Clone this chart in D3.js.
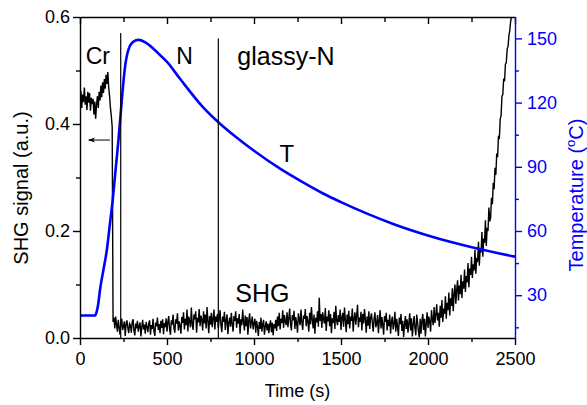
<!DOCTYPE html>
<html><head><meta charset="utf-8">
<script src="https://cdn.jsdelivr.net/npm/d3@7"></script>
<style>
body{margin:0;background:#fff;}
svg{display:block;font-family:"Liberation Sans",Arial,Helvetica,sans-serif;}
</style>
</head><body>
<svg id="chart" width="587" height="405"></svg>
<script>
// ---------------- data ----------------
const timeTicks = [0, 500, 1000, 1500, 2000, 2500];
const timeMinorTicks = [250, 750, 1250, 1750, 2250];
const shgTicks = [0.0, 0.2, 0.4, 0.6];
const shgMinorTicks = [0.1, 0.3, 0.5];
const tempTicks = [30, 60, 90, 120, 150];
const tempMinorTicks = [15, 45, 75, 105, 135];

// SHG signal sampled every 5 s starting at 0 s
const shgStart = 0;
const shgStep = 5;
const shgValues = [
  // 0 - 185 s (Cr)
  .448,.462,.430,.455,.441,.468,.436,.452,.426,.460,
  .440,.458,.425,.449,.437,.447,.418,.442,.410,.436,
  .452,.430,.460,.444,.472,.450,.478,.458,.484,.466,
  .492,.475,.497,.468,.452,.430,.415,.395,
  // 190 - 285
  .030,.038,.018,.040,.025,.012,.034,.020,.006,.028,.036,.015,.022,.031,.004,.026,.033,.019,.009,.027,
  // 290 - 385
  .024,.010,.030,.035,.014,.005,.027,.018,.032,.012,.022,.029,.003,.020,.034,.016,.025,.008,.030,.021,
  // 390 - 485
  .011,.027,.033,.006,.024,.017,.036,.013,.004,.029,.022,.038,.015,.026,.009,.032,.019,.035,.007,.028,
  // 490 - 585
  .020,.037,.012,.030,.041,.016,.006,.033,.025,.044,.018,.010,.035,.027,.046,.014,.031,.022,.008,.039,
  // 590 - 685
  .028,.048,.016,.036,.024,.053,.012,.040,.031,.020,.057,.026,.015,.044,.035,.050,.010,.038,.029,.054,
  // 690 - 785
  .022,.042,.034,.014,.050,.027,.044,.018,.058,.032,.009,.041,.025,.047,.020,.036,.053,.016,.040,.030,
  // 790 - 885
  .045,.018,.036,.052,.024,.011,.040,.030,.049,.015,.033,.044,.007,.028,.038,.021,.047,.026,.012,.041,
  // 890 - 985
  .032,.050,.019,.037,.027,.045,.008,.035,.024,.053,.030,.014,.042,.022,.039,.006,.033,.046,.018,.029,
  // 990 - 1085
  .040,.016,.028,.036,.010,.032,.021,.004,.030,.017,.038,.012,.025,.034,.006,.022,.031,.014,.027,.009,
  // 1090 - 1185
  .024,.033,.011,.029,.005,.026,.018,.034,.013,.040,.022,.047,.016,.036,.028,.052,.019,.043,.031,.024,
  // 1190 - 1285
  .048,.020,.037,.055,.026,.014,.043,.033,.051,.017,.039,.028,.010,.046,.035,.024,.053,.030,.015,.042,
  // 1290 - 1385
  .036,.054,.022,.041,.030,.012,.047,.026,.058,.034,.018,.044,.008,.038,.029,.050,.021,.075,.032,.045,
  // 1390 - 1485
  .019,.048,.035,.027,.056,.013,.040,.031,.052,.022,.045,.009,.037,.028,.049,.017,.060,.033,.024,.043,
  // 1490 - 1585
  .030,.053,.015,.039,.047,.021,.057,.034,.011,.044,.026,.051,.018,.040,.032,.055,.012,.036,.048,.025,
  // 1590 - 1685
  .042,.062,.020,.038,.030,.049,.014,.045,.027,.054,.034,.010,.040,.023,.050,.017,.037,.046,.029,.012,
  // 1690 - 1785
  .036,.048,.020,.027,.043,.009,.033,.052,.018,.039,.025,.006,.041,.030,.047,.014,.034,.022,.044,.008,
  // 1790 - 1885
  .031,.040,.016,.027,.049,.012,.036,.021,.004,.038,.026,.045,.013,.032,.002,.024,.041,.017,.035,.010,
  // 1890 - 1955
  .028,.046,.014,.037,.003,.025,.041,.019,.005,.044,.030,.012,.001,.036,
  // 1960 - 2055 (rise begins)
  .008,.032,.045,.015,.036,.003,.027,.048,.019,.040,.030,.012,.052,.035,.024,.058,.028,.044,.063,.033,
  // 2060 - 2155
  .047,.021,.060,.038,.071,.030,.055,.045,.078,.036,.066,.052,.085,.042,.074,.060,.093,.050,.082,.100,
  // 2160 - 2255
  .064,.090,.108,.070,.098,.082,.118,.075,.106,.092,.128,.086,.116,.104,.140,.095,.130,.118,.152,.112,
  // 2260 - 2355
  .138,.126,.165,.120,.150,.142,.180,.135,.168,.160,.198,.152,.186,.178,.220,.172,.206,.200,.244,.218,
  // 2360 - 2455
  .225,.262,.250,.290,.278,.318,.305,.345,.338,.378,.372,.410,.415,.452,.455,.485,.480,.512,.515,.540,
  // 2460 - 2490
  .545,.565,.575,.592,.600,.625,.650
];

// Temperature curve (s, °C)
const tempTime = [0, 85, 95, 105, 115, 135, 154, 170, 188, 205, 221, 240, 259, 278, 307, 336, 384,
  450, 500, 576, 700, 800, 900, 1000, 1152, 1267, 1400, 1500, 1653, 1800, 2033, 2264, 2500];
const tempValues = [20.5, 20.5, 22, 26, 32.5, 42, 51, 62, 74.5, 89, 102.5, 121, 136.8, 144.6, 148.5, 149.3, 147.7,
  143, 139, 131, 118.5, 110.5, 103.7, 97.5, 89, 83.4, 77.4, 73.5, 68, 63.3, 57.1, 52.2, 48];

// phase boundaries (s) and the SHG value where each line starts at top
const boundaryTimes = [234, 795];
const boundaryTops = [0.570, 0.560];

// ---------------- drawing ----------------
const svg = d3.select("#chart");
const m = {left: 80, right: 515, top: 17, bottom: 338};
const BLUE = "#0000ff";

const x = d3.scaleLinear().domain([0, 2500]).range([m.left, m.right]);
const yL = d3.scaleLinear().domain([0, 0.6]).range([m.bottom, m.top]);
const yR = d3.scaleLinear().domain([10, 160]).range([m.bottom, m.top]);

const defs = svg.append("defs");
defs.append("clipPath").attr("id", "clip")
  .append("rect").attr("x", m.left).attr("y", m.top)
  .attr("width", m.right - m.left).attr("height", m.bottom - m.top);

const plot = svg.append("g").attr("clip-path", "url(#clip)");

// SHG
const shgData = shgValues.map((v, i) => [shgStart + i * shgStep, v]);
plot.append("path").datum(shgData)
  .attr("fill", "none").attr("stroke", "#000").attr("stroke-width", 1.4)
  .attr("d", d3.line().x(d => x(d[0])).y(d => yL(d[1])));

// Temperature
const tempData = tempTime.map((t, i) => [t, tempValues[i]]);
plot.append("path").datum(tempData)
  .attr("fill", "none").attr("stroke", BLUE).attr("stroke-width", 2.6)
  .attr("d", d3.line().curve(d3.curveMonotoneX).x(d => x(d[0])).y(d => yR(d[1])));

// phase boundary lines
boundaryTimes.forEach((t, i) => {
  svg.append("line")
    .attr("x1", x(t)).attr("x2", x(t))
    .attr("y1", yL(boundaryTops[i])).attr("y2", yL(0))
    .attr("stroke", "#000").attr("stroke-width", 1.2);
});

// arrow pointing to the left axis
defs.append("marker").attr("id", "arr")
  .attr("viewBox", "0 0 10 10").attr("refX", 9).attr("refY", 5)
  .attr("markerWidth", 7).attr("markerHeight", 7).attr("orient", "auto")
  .append("path").attr("d", "M0,1.5 L10,5 L0,8.5 L2.5,5 Z").attr("fill", "#000");
svg.append("line")
  .attr("x1", x(172)).attr("x2", x(50))
  .attr("y1", yL(0.37)).attr("y2", yL(0.37))
  .attr("stroke", "#000").attr("stroke-width", 1)
  .attr("marker-end", "url(#arr)");

// ---------------- axes ----------------
function styleAxis(g, color) {
  g.selectAll("path.domain").attr("stroke", color).attr("stroke-width", 1.4);
  g.selectAll(".tick line").attr("stroke", color).attr("stroke-width", 1.4);
  g.selectAll(".tick text").attr("fill", color).attr("font-size", 18)
    .attr("font-family", "Liberation Sans, Arial, sans-serif");
}

// bottom
const gB = svg.append("g").attr("transform", `translate(0,${m.bottom})`)
  .call(d3.axisBottom(x).tickValues(timeTicks).tickFormat(d3.format("d"))
    .tickSize(7).tickSizeOuter(0).tickPadding(7));
styleAxis(gB, "#000");
const gBm = svg.append("g").attr("transform", `translate(0,${m.bottom})`)
  .call(d3.axisBottom(x).tickValues(timeMinorTicks).tickFormat("").tickSize(4));
gBm.select(".domain").remove();
styleAxis(gBm, "#000");

// top (inward ticks)
const gT = svg.append("g").attr("transform", `translate(0,${m.top})`)
  .call(d3.axisBottom(x).tickValues(timeTicks).tickFormat("").tickSize(7).tickSizeOuter(0));
styleAxis(gT, "#000");
const gTm = svg.append("g").attr("transform", `translate(0,${m.top})`)
  .call(d3.axisBottom(x).tickValues(timeMinorTicks).tickFormat("").tickSize(5));
gTm.select(".domain").remove();
styleAxis(gTm, "#000");

// left
const gL = svg.append("g").attr("transform", `translate(${m.left},0)`)
  .call(d3.axisLeft(yL).tickValues(shgTicks).tickFormat(d3.format(".1f"))
    .tickSize(7).tickSizeOuter(0).tickPadding(3));
styleAxis(gL, "#000");
const gLm = svg.append("g").attr("transform", `translate(${m.left},0)`)
  .call(d3.axisLeft(yL).tickValues(shgMinorTicks).tickFormat("").tickSize(4));
gLm.select(".domain").remove();
styleAxis(gLm, "#000");

// right (blue)
const gR = svg.append("g").attr("transform", `translate(${m.right},0)`)
  .call(d3.axisRight(yR).tickValues(tempTicks).tickFormat(d3.format("d"))
    .tickSize(7).tickSizeOuter(0).tickPadding(5));
styleAxis(gR, BLUE);
const gRm = svg.append("g").attr("transform", `translate(${m.right},0)`)
  .call(d3.axisRight(yR).tickValues(tempMinorTicks).tickFormat("").tickSize(4));
gRm.select(".domain").remove();
styleAxis(gRm, BLUE);

// ---------------- titles ----------------
svg.append("text").attr("x", (m.left + m.right) / 2).attr("y", 397)
  .attr("text-anchor", "middle").attr("font-size", 18).attr("fill", "#000")
  .text("Time (s)");

svg.append("text")
  .attr("transform", `translate(28,188) rotate(-90)`)
  .attr("text-anchor", "middle").attr("font-size", 20).attr("fill", "#000")
  .text("SHG signal (a.u.)");

const tt = svg.append("text")
  .attr("transform", `translate(583,195) rotate(-90)`)
  .attr("text-anchor", "middle").attr("font-size", 20).attr("fill", BLUE);
tt.append("tspan").text("Temperature (");
tt.append("tspan").attr("font-size", 13).attr("dy", -8).text("o");
tt.append("tspan").attr("dy", 8).text("C)");

// ---------------- annotations ----------------
const notes = [
  {text: "Cr", t: 33, v: 0.513, size: 23},
  {text: "N", t: 553, v: 0.513, size: 23},
  {text: "glassy-N", t: 904, v: 0.511, size: 25},
  {text: "T", t: 1147, v: 0.329, size: 24},
  {text: "SHG", t: 892, v: 0.067, size: 25}
];
notes.forEach(n => {
  svg.append("text").attr("x", x(n.t)).attr("y", yL(n.v))
    .attr("font-size", n.size).attr("fill", "#000").text(n.text);
});
</script>
</body></html>
